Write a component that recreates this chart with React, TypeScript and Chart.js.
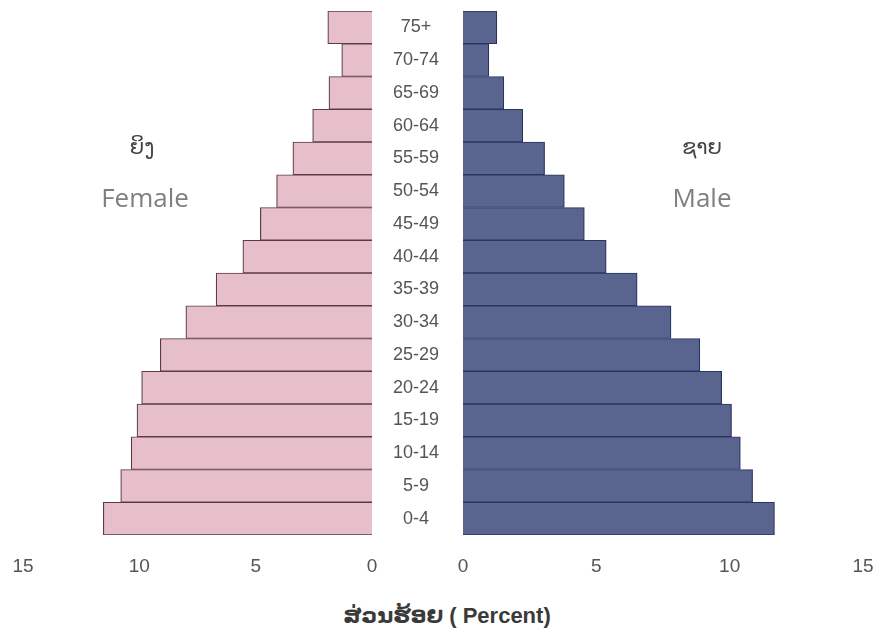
import React, { useEffect, useRef } from "react";
import { Chart, registerables } from "chart.js";

Chart.register(...registerables);

// Age groups, youngest first
const ageGroups = ["0-4", "5-9", "10-14", "15-19", "20-24", "25-29", "30-34", "35-39", "40-44", "45-49", "50-54", "55-59", "60-64", "65-69", "70-74", "75+"];
// Percent values
const femaleValues = [11.55, 10.8, 10.35, 10.1, 9.9, 9.1, 8.0, 6.7, 5.55, 4.8, 4.1, 3.4, 2.55, 1.85, 1.3, 1.9];
const maleValues = [11.68, 10.86, 10.4, 10.07, 9.7, 8.88, 7.8, 6.53, 5.37, 4.55, 3.8, 3.06, 2.24, 1.53, 0.97, 1.27];
const axisTicks = [0, 5, 10, 15];

const femaleLabel = "ຍິງ";
const femaleLabelEn = "Female";
const maleLabel = "ຊາຍ";
const maleLabelEn = "Male";
const axisTitle = "ສ່ວນຮ້ອຍ ( Percent)";

const TICK_FONT = { family: "'Liberation Sans', Arial, sans-serif", size: 19 };
const TICK_COLOR = "#555555";

function xScale(reverse: boolean) {
  return {
    type: "linear" as const,
    reverse,
    min: 0,
    max: 15,
    afterBuildTicks: (s: any) => {
      s.ticks = axisTicks.map((v) => ({ value: v }));
    },
    afterFit: (s: any) => {
      s.height = 50;
      s.paddingLeft = 0;
      s.paddingRight = 0;
    },
    grid: { display: false, drawTicks: false },
    border: { display: false },
    ticks: { font: TICK_FONT, color: TICK_COLOR, padding: 20, maxRotation: 0, autoSkip: false },
  };
}

export default function App() {
  const leftRef = useRef<HTMLCanvasElement>(null);
  const rightRef = useRef<HTMLCanvasElement>(null);

  useEffect(() => {
    const left = new Chart(leftRef.current!, {
      type: "bar",
      data: {
        labels: ageGroups,
        datasets: [
          {
            label: femaleLabelEn,
            data: femaleValues,
            backgroundColor: "#e7bfca",
            borderColor: "#5b3b45",
            borderWidth: 1.2,
            barPercentage: 1,
            categoryPercentage: 1,
          },
        ],
      },
      options: {
        indexAxis: "y",
        animation: false,
        responsive: false,
        devicePixelRatio: 1,
        layout: { padding: { left: 23, right: 28, top: 11, bottom: 15 } },
        plugins: { legend: { display: false }, tooltip: { enabled: false } },
        scales: {
          x: xScale(true),
          y: { type: "category", reverse: true, display: false, grid: { display: false } },
        },
      },
    });

    const right = new Chart(rightRef.current!, {
      type: "bar",
      data: {
        labels: ageGroups,
        datasets: [
          {
            label: maleLabelEn,
            data: maleValues,
            backgroundColor: "#59648f",
            borderColor: "#2b3461",
            borderWidth: 1.2,
            barPercentage: 1,
            categoryPercentage: 1,
          },
        ],
      },
      options: {
        indexAxis: "y",
        animation: false,
        responsive: false,
        devicePixelRatio: 1,
        layout: { padding: { left: 0, right: 10, top: 11, bottom: 15 } },
        plugins: { legend: { display: false }, tooltip: { enabled: false } },
        scales: {
          x: xScale(false),
          y: {
            type: "category",
            reverse: true,
            position: "left",
            afterFit: (s: any) => {
              s.width = 91;
              s.paddingTop = 0;
              s.paddingBottom = 0;
            },
            grid: { display: false, drawTicks: false },
            border: { display: false },
            ticks: { font: { ...TICK_FONT, size: 18 }, color: TICK_COLOR, crossAlign: "center", padding: 24, autoSkip: false },
          },
        },
      },
    });

    return () => {
      left.destroy();
      right.destroy();
    };
  }, []);

  const laoFont = "'DejaVu Sans', 'Noto Sans', sans-serif";
  const enFont = "'Open Sans', Lato, sans-serif";

  return (
    <div style={{ position: "fixed", left: 0, top: 0, width: 873, height: 636, background: "#fff", overflow: "hidden" }}>
      <canvas ref={leftRef} width={400} height={600} style={{ position: "absolute", left: 0, top: 0, width: 400, height: 600 }} />
      <canvas ref={rightRef} width={501} height={600} style={{ position: "absolute", left: 372, top: 0, width: 501, height: 600 }} />
      <div style={{ position: "absolute", left: 92, width: 100, top: 133, textAlign: "center", fontFamily: laoFont, fontSize: 21, color: "#444", lineHeight: "28px" }}>{femaleLabel}</div>
      <div style={{ position: "absolute", left: 77, width: 136, top: 179, textAlign: "center", fontFamily: enFont, fontSize: 26, color: "#7f7f7f", lineHeight: "36px" }}>{femaleLabelEn}</div>
      <div style={{ position: "absolute", left: 652, width: 100, top: 133, textAlign: "center", fontFamily: laoFont, fontSize: 21, color: "#444", lineHeight: "28px" }}>{maleLabel}</div>
      <div style={{ position: "absolute", left: 634, width: 136, top: 179, textAlign: "center", fontFamily: enFont, fontSize: 26, color: "#7f7f7f", lineHeight: "36px" }}>{maleLabelEn}</div>
      <div style={{ position: "absolute", left: 247, width: 400, top: 601, textAlign: "center", fontFamily: "'Liberation Sans', " + laoFont, fontSize: 22, fontWeight: "bold", color: "#3a3a3a", lineHeight: "30px" }}>{axisTitle}</div>
    </div>
  );
}
